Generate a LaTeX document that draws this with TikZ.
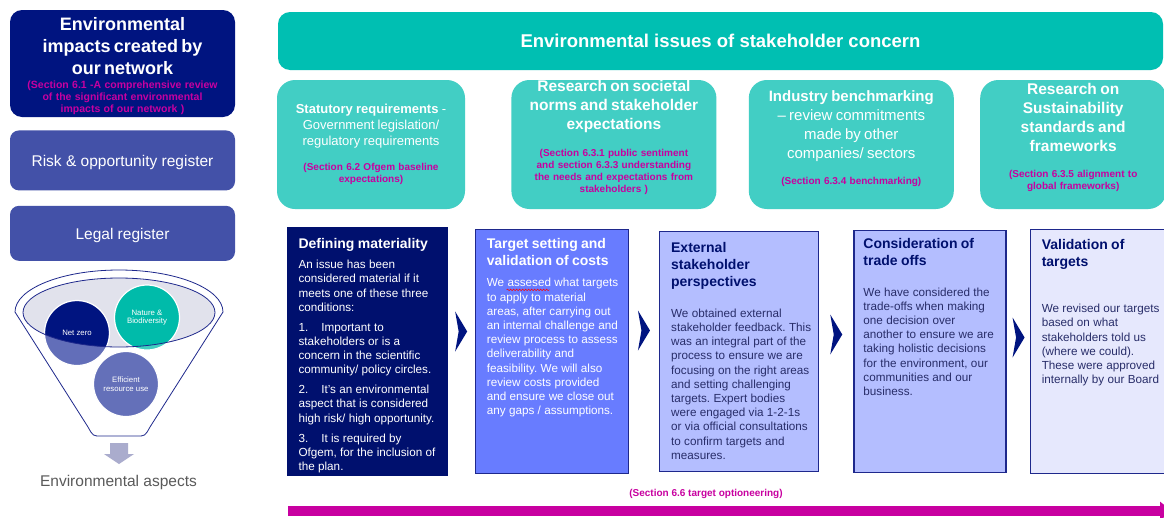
\documentclass[tikz,border=0pt]{standalone}
\usepackage{fontspec}
\setmainfont{Liberation Sans}
\usepackage{xcolor}
\usepackage{tikz}
\usetikzlibrary{arrows.meta, positioning, calc, decorations.pathmorphing}
\frenchspacing

\definecolor{navy}{RGB}{0, 20, 128}
\definecolor{stepnavy}{RGB}{0, 16, 110}
\definecolor{regblue}{RGB}{67, 81, 168}
\definecolor{bannerteal}{RGB}{0, 191, 178}
\definecolor{issueteal}{RGB}{66, 206, 196}
\definecolor{sectmag}{RGB}{200, 0, 160}
\definecolor{tgtblue}{RGB}{104, 124, 255}
\definecolor{extblue}{RGB}{180, 190, 255}
\definecolor{valblue}{RGB}{230, 232, 253}
\definecolor{boxline}{RGB}{30, 40, 140}
\definecolor{stepink}{RGB}{40, 45, 105}
\definecolor{funnelgrey}{RGB}{225, 226, 236}
\definecolor{nzdark}{RGB}{0, 20, 128}
\definecolor{nzlight}{RGB}{98, 110, 185}
\definecolor{biodark}{RGB}{0, 187, 170}
\definecolor{biolight}{RGB}{64, 206, 192}
\definecolor{effblue}{RGB}{100, 112, 185}
\definecolor{downgrey}{RGB}{170, 172, 205}
\definecolor{aspectgrey}{RGB}{90, 90, 90}

\newcommand{\sectfont}{\fontsize{10}{12}\selectfont\bfseries\color{sectmag}}
\newcommand{\headfont}{\fontsize{14}{17}\selectfont\bfseries}
\newcommand{\bodyfont}{\fontsize{11.7}{14.2}\selectfont}

\tikzstyle{impact} = [
    rectangle,
    rounded corners=12pt,
    minimum width=225pt,
    minimum height=107pt,
    text width=220pt,
    inner sep=0pt,
    align=center,
    fill=navy,
    text=white
]
\tikzstyle{register} = [
    rectangle,
    rounded corners=9pt,
    minimum width=225pt,
    text height=12pt,
    text depth=0pt,
    fill=regblue,
    text=white,
    font=\fontsize{15.5}{18}\selectfont
]
\tikzstyle{banner} = [
    rectangle,
    rounded corners=12pt,
    minimum width=885pt,
    minimum height=58pt,
    fill=bannerteal,
    text=white,
    font=\fontsize{18.5}{22}\selectfont\bfseries
]
\tikzstyle{issue} = [
    rectangle,
    rounded corners=18pt,
    minimum height=129pt,
    inner sep=0pt,
    align=center,
    fill=issueteal,
    text=white
]
\tikzstyle{stepbox} = [
    rectangle,
    draw=boxline,
    line width=1.3pt
]
\tikzstyle{steptext} = [
    text width=160pt,
    inner sep=0pt,
    align=left
]
\tikzstyle{aspect} = [
    circle,
    minimum size=65pt,
    inner sep=0pt,
    draw=white,
    line width=1.2pt
]
\tikzstyle{aspectlabel} = [
    text=white,
    align=center,
    font=\fontsize{7.8}{8.5}\selectfont
]
\tikzstyle{optarrow} = [
    line width=10pt,
    color=sectmag,
    -{Triangle[length=12pt, width=18pt]}
]
\tikzstyle{spellwave} = [
    red,
    line width=0.5pt,
    decorate,
    decoration={snake, amplitude=0.8pt, segment length=3pt}
]
\tikzset{stepchevron/.pic={\fill[navy] (-6,-20) -- (6,0) -- (-6,20) -- (-2.5,0) -- cycle;}}

\begin{document}
\begin{tikzpicture}[x=1pt, y=-1pt]
    \fill[white] (0,0) rectangle (1164,517);
    \useasboundingbox (0,0) rectangle (1164,517);
    \clip (0,0) rectangle (1164,517);

    % left column
    \node[impact] (impacts) at (122.5,63.5) {%
        {\fontsize{18}{22}\selectfont\bfseries Environmental\\impacts created by\\our network\par}\vspace{2.5pt}
        {\fontsize{10.5}{12}\selectfont\bfseries\color{sectmag}(Section 6.1 -A comprehensive review\\of the significant environmental\\impacts of our network )\par}\vspace{-5pt}};
    \node[register, minimum height=60pt, below=13pt of impacts] (riskreg) {Risk \& opportunity register};
    \node[register, minimum height=55pt, below=15pt of riskreg] (legalreg) {Legal register};

    % funnel of aspects
    \draw[boxline, line width=0.8pt, fill=white] (15,312) arc[start angle=180, end angle=0, x radius=104pt, y radius=42pt]
        -- (150,427) .. controls (145,436) .. (137,436) -- (101,436) .. controls (93,436) .. (88,427) -- cycle;
    \fill[funnelgrey] (119,312.5) ellipse [x radius=96pt, y radius=34.5pt];
    \node[aspect, fill=nzlight] (netzero) at (77,333) {};
    \node[aspect, fill=biolight] (nature) at (147,317.5) {};
    \node[aspect, fill=effblue] (efficient) at (126,384) {};
    \begin{scope}
        \clip (119,312.5) ellipse [x radius=96pt, y radius=34.5pt];
        \fill[nzdark] (netzero.center) circle [radius=31.6pt];
        \fill[biodark] (nature.center) circle [radius=31.6pt];
    \end{scope}
    \draw[boxline, line width=0.8pt] (119,312.5) ellipse [x radius=96pt, y radius=34.5pt];
    \node[aspectlabel] at (netzero) {Net zero};
    \node[aspectlabel] at (nature) {Nature \&\\Biodiversity};
    \node[aspectlabel] at (efficient) {Efficient\\resource use};

    \fill[downgrey] (110,443) -- (128,443) -- (128,454) -- (134,454) -- (119,464) -- (104,454) -- (110,454) -- cycle;
    \node[text=aspectgrey, font=\fontsize{15.5}{18}\selectfont] (aspects) at (118.5,482) {Environmental aspects};

    % issues of stakeholder concern
    \node[banner] (concern) at (720.5,41) {Environmental issues of stakeholder concern};

    \node[issue, minimum width=188pt, text width=182pt] (statutory) at (371,144.5) {%
        {\fontsize{13}{16}\selectfont\textbf{Statutory requirements} -\\Government legislation/\\regulatory requirements\par}\vspace{13pt}
        {\sectfont (Section 6.2 Ofgem baseline\\expectations)\par}};
    \node[issue, minimum width=205pt, text width=199pt, right=46pt of statutory] (societal) {%
        {\fontsize{15.5}{19}\selectfont\bfseries Research on societal\\norms and stakeholder\\expectations\par}\vspace{15pt}
        {\sectfont (Section 6.3.1 public sentiment\\and section 6.3.3 understanding\\the needs and expectations from\\stakeholders )\par}\vspace{14pt}};
    \node[issue, minimum width=205pt, text width=199pt, right=32pt of societal] (benchmark) {%
        {\fontsize{15}{19}\selectfont\textbf{Industry benchmarking}\\– review commitments\\made by other\\companies/ sectors\par}\vspace{13.5pt}
        {\sectfont (Section 6.3.4 benchmarking)\par}\vspace{12pt}};
    \node[issue, minimum width=186pt, text width=180pt, right=26pt of benchmark] (frameworks) {%
        {\fontsize{15.5}{19}\selectfont\bfseries Research on\\Sustainability\\standards and\\frameworks\par}\vspace{13.5pt}
        {\sectfont (Section 6.3.5 alignment to\\global frameworks)\par}\vspace{14pt}};

    % process steps
    \node[stepbox, fill=stepnavy, draw=stepnavy, minimum width=159pt, minimum height=247pt] (materiality) at (367.5,351.5) {};
    \node[stepbox, fill=tgtblue, minimum width=153pt, minimum height=244pt, right=27pt of materiality] (targets) {};
    \node[stepbox, fill=extblue, minimum width=159pt, minimum height=240pt, right=30pt of targets] (external) {};
    \node[stepbox, fill=extblue, minimum width=152pt, minimum height=242pt, right=34pt of external] (tradeoffs) {};
    \node[stepbox, draw=none, fill=valblue, minimum width=175pt, minimum height=243pt, right=24pt of tradeoffs] (validation) {};
    \draw[boxline, line width=1.3pt] (validation.north east) -- (validation.north west) -- (validation.south west) -- (validation.south east);

    \pic at ($(materiality.east)!0.5!(targets.west)+(0,-20)$) {stepchevron};
    \pic at ($(targets.east)!0.5!(external.west)+(0,-21)$) {stepchevron};
    \pic at ($(external.east)!0.5!(tradeoffs.west)+(0,-17)$) {stepchevron};
    \pic at ($(tradeoffs.east)!0.5!(validation.west)+(0,-14)$) {stepchevron};

    \node[steptext, text=white, below right=11pt and 11pt of materiality.north west] (materiality-txt) {%
        {\headfont Defining materiality\par}\vspace{5.8pt}
        {\bodyfont An issue has been\\considered material if it\\meets one of these three\\conditions:\\[5.7pt]
        1.\hspace{13pt}Important to\\stakeholders or is a\\concern in the scientific\\community/ policy circles.\\[5.7pt]
        2.\hspace{13pt}It’s an environmental\\aspect that is considered\\high risk/ high opportunity.\\[5.7pt]
        3.\hspace{13pt}It is required by\\Ofgem, for the inclusion of\\the plan.\par}};
    \node[steptext, text=white, below right=9pt and 12pt of targets.north west] (targets-txt) {%
        {\headfont Target setting and\\validation of costs\par}\vspace{7.5pt}
        {\bodyfont We assesed what targets\\to apply to material\\areas, after carrying out\\an internal challenge and\\review process to assess\\deliverability and\\feasibility. We will also\\review costs provided\\and ensure we close out\\any gaps / assumptions.\par}};
    % squiggle under the misspelt word
    \draw[spellwave] ($(targets-txt.north west)+(20,52)$) -- ($(targets-txt.north west)+(63,52)$);
    \node[steptext, below right=11pt and 12pt of external.north west] (external-txt) {%
        {\headfont\color{stepnavy}External\\stakeholder\\perspectives\par}\vspace{16.8pt}
        {\bodyfont\color{stepink}We obtained external\\stakeholder feedback. This\\was an integral part of the\\process to ensure we are\\focusing on the right areas\\and setting challenging\\targets. Expert bodies\\were engaged via 1-2-1s\\or via official consultations\\to confirm targets and\\measures.\par}};
    \node[steptext, below right=8pt and 10pt of tradeoffs.north west] (tradeoffs-txt) {%
        {\headfont\color{stepnavy}Consideration of\\trade offs\par}\vspace{16.8pt}
        {\bodyfont\color{stepink}We have considered the\\trade-offs when making\\one decision over\\another to ensure we are\\taking holistic decisions\\for the environment, our\\communities and our\\business.\par}};
    \node[steptext, below right=10pt and 11pt of validation.north west] (validation-txt) {%
        {\headfont\color{stepnavy}Validation of\\targets\par}\vspace{31.8pt}
        {\bodyfont\color{stepink}We revised our targets\\based on what\\stakeholders told us\\(where we could).\\These were approved\\internally by our Board\par}};

    % optioneering arrow along the bottom
    \node[font=\sectfont] (optlabel) at (706,494) {(Section 6.6 target optioneering)};
    \coordinate (optstart) at (288,511);
    \coordinate (optend) at (1172,511);
    \draw[optarrow] (optstart) -- (optend);
\end{tikzpicture}
\end{document}
